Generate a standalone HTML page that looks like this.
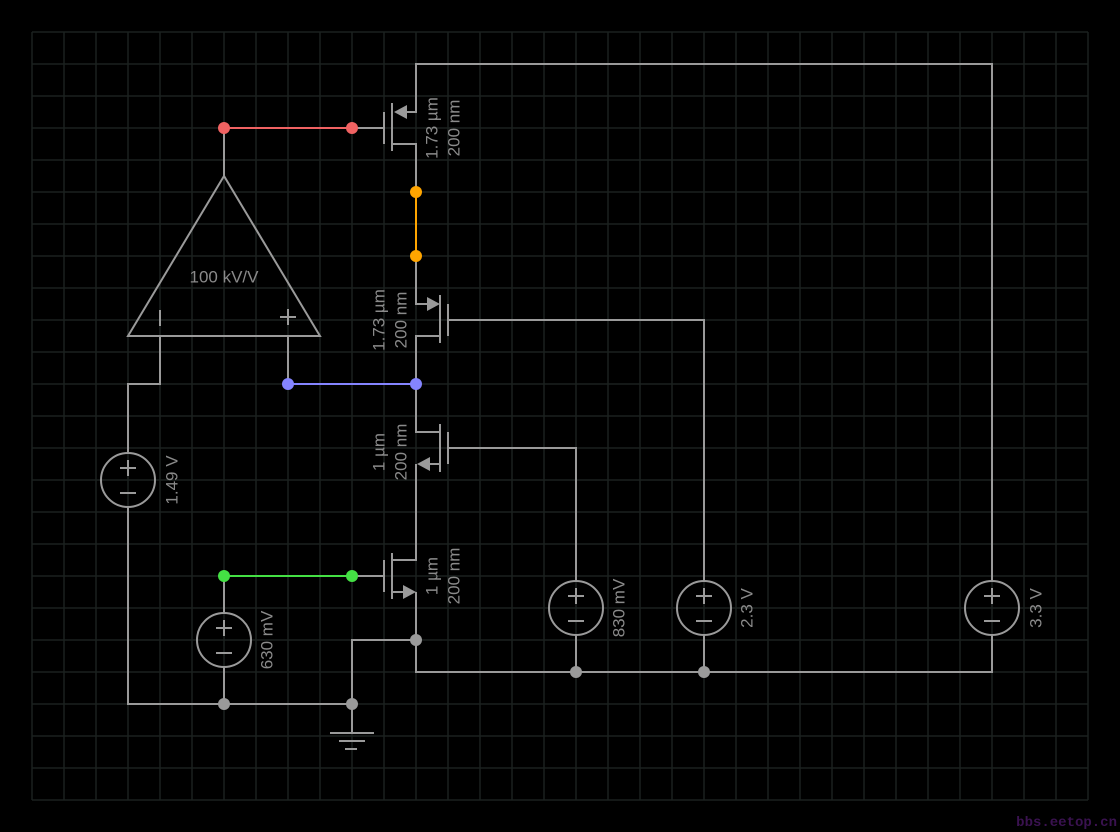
<!DOCTYPE html>
<html><head><meta charset="utf-8"><style>
html,body{margin:0;padding:0;background:#000;}
svg{display:block;}
text{font-family:"Liberation Sans",sans-serif;}
</style></head><body>
<svg width="1120" height="832" viewBox="0 0 1120 832" xmlns="http://www.w3.org/2000/svg">
<rect width="1120" height="832" fill="#000"/>
<g stroke="#1b211f" stroke-width="1.5">
<path id="g" d="
M32 32V800M64 32V800M96 32V800M128 32V800M160 32V800M192 32V800M224 32V800M256 32V800M288 32V800M320 32V800M352 32V800M384 32V800M416 32V800M448 32V800M480 32V800M512 32V800M544 32V800M576 32V800M608 32V800M640 32V800M672 32V800M704 32V800M736 32V800M768 32V800M800 32V800M832 32V800M864 32V800M896 32V800M928 32V800M960 32V800M992 32V800M1024 32V800M1056 32V800M1088 32V800
M32 32H1088M32 64H1088M32 96H1088M32 128H1088M32 160H1088M32 192H1088M32 224H1088M32 256H1088M32 288H1088M32 320H1088M32 352H1088M32 384H1088M32 416H1088M32 448H1088M32 480H1088M32 512H1088M32 544H1088M32 576H1088M32 608H1088M32 640H1088M32 672H1088M32 704H1088M32 736H1088M32 768H1088M32 800H1088"/>
</g>
<g stroke="#9a9a9a" stroke-width="2" fill="none">
<!-- M1 -->
<path d="M992 581V64H416V112H398"/>
<path d="M392 103V151M384 112V144M352 128H384M392 144H416V192"/>
<!-- opamp -->
<path d="M224 128V176M224 176L128 336H320Z"/>
<path d="M160 310V326M280 317H296M288 309V325"/>
<path d="M288 336V384M160 336V384H128V453M128 507V704H352M224 576V613M224 667V704"/>
<!-- M2 -->
<path d="M416 256V304H430M440 295V343M448 304V336M448 320H704V581M440 336H416V384"/>
<!-- M3 -->
<path d="M416 384V432H440M440 424V472M448 432V464M448 448H576V581M440 464H428M416 464V560H392"/>
<!-- M4 -->
<path d="M392 553V599M384 560V592M352 576H384M392 592H404M416 592V672H992V635M416 640H352V733"/>
<path d="M576 635V672M704 635V672"/>
<path d="M330 733H374M339 741H365M345 749H357"/>
<!-- sources -->
<circle cx="128" cy="480" r="27"/><circle cx="224" cy="640" r="27"/><circle cx="576" cy="608" r="27"/><circle cx="704" cy="608" r="27"/><circle cx="992" cy="608" r="27"/>
<path d="M120 468H136M128 460V476M120 493H136"/>
<path d="M216 628H232M224 620V636M216 653H232"/>
<path d="M568 596H584M576 588V604M568 621H584"/>
<path d="M696 596H712M704 588V604M696 621H712"/>
<path d="M984 596H1000M992 588V604M984 621H1000"/>
</g>
<g fill="#9a9a9a">
<path d="M394 112L407 105V119Z"/>
<path d="M440 304L427 297V311Z"/>
<path d="M417 464L430 457V471Z"/>
<path d="M416 592L403 585V599Z"/>
<circle cx="416" cy="640" r="6"/><circle cx="352" cy="704" r="6"/><circle cx="224" cy="704" r="6"/>
<circle cx="576" cy="672" r="6"/><circle cx="704" cy="672" r="6"/>
</g>
<path d="M224 128H352" stroke="#f06262" stroke-width="2"/>
<circle cx="224" cy="128" r="6" fill="#f06262"/><circle cx="352" cy="128" r="6" fill="#f06262"/>
<path d="M416 192V256" stroke="#ffa500" stroke-width="2"/>
<circle cx="416" cy="192" r="6" fill="#ffa500"/><circle cx="416" cy="256" r="6" fill="#ffa500"/>
<path d="M288 384H416" stroke="#8484ff" stroke-width="2"/>
<circle cx="288" cy="384" r="6" fill="#8484ff"/><circle cx="416" cy="384" r="6" fill="#8484ff"/>
<path d="M224 576H352" stroke="#44e044" stroke-width="2"/>
<circle cx="224" cy="576" r="6" fill="#44e044"/><circle cx="352" cy="576" r="6" fill="#44e044"/>
<g fill="#8a8a8a" font-size="17" text-anchor="middle" dominant-baseline="central">
<text x="224" y="277">100 kV/V</text>
<text transform="translate(172,480) rotate(-90)">1.49 V</text>
<text transform="translate(267,640) rotate(-90)">630 mV</text>
<text transform="translate(619,608) rotate(-90)">830 mV</text>
<text transform="translate(747,608) rotate(-90)">2.3 V</text>
<text transform="translate(1036,608) rotate(-90)">3.3 V</text>
<text transform="translate(432,128) rotate(-90)">1.73 µm</text>
<text transform="translate(454,128) rotate(-90)">200 nm</text>
<text transform="translate(379,320) rotate(-90)">1.73 µm</text>
<text transform="translate(401,320) rotate(-90)">200 nm</text>
<text transform="translate(379,452) rotate(-90)">1 µm</text>
<text transform="translate(401,452) rotate(-90)">200 nm</text>
<text transform="translate(432,576) rotate(-90)">1 µm</text>
<text transform="translate(454,576) rotate(-90)">200 nm</text>
</g>
<text x="1117" y="826" text-anchor="end" font-size="14" font-weight="bold" fill="#3a1250" style="font-family:'Liberation Mono',monospace">bbs.eetop.cn</text>
</svg>
</body></html>
